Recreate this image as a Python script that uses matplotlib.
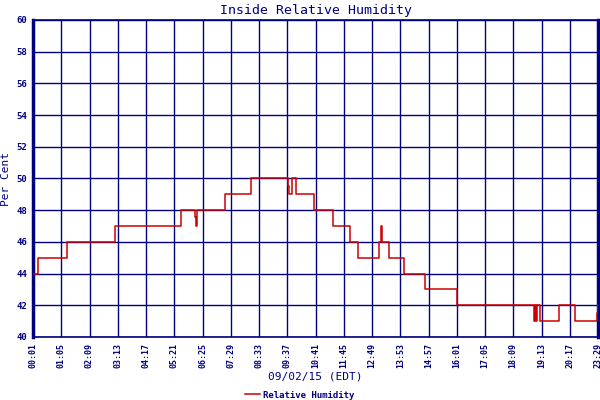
import matplotlib
matplotlib.use("Agg")
import matplotlib.pyplot as plt

# x tick labels (sample times, evenly spaced by index)
tick_labels = ["00:01", "01:05", "02:09", "03:13", "04:17", "05:21", "06:25",
               "07:29", "08:33", "09:37", "10:41", "11:45", "12:49", "13:53",
               "14:57", "16:01", "17:05", "18:09", "19:13", "20:17", "23:29"]

# step change positions (in tick-interval units) and humidity values
change_pos = [0.00, 0.16, 1.22, 2.92, 5.24, 5.73, 5.77, 5.80, 6.81, 7.72,
              9.03, 9.06, 9.17, 9.31, 9.93, 10.61, 11.21, 11.50, 12.24, 12.31,
              12.35, 12.59, 13.13, 13.87, 15.00, 17.75, 17.78, 17.82, 17.85,
              17.96, 18.61, 19.17, 19.96, 19.985, 20.00]
humidity = [44, 45, 46, 47, 48, 47.6, 47, 48, 49, 50,
            49.5, 49, 50, 49, 48, 47, 46, 45, 46, 47,
            46, 45, 44, 43, 42, 41, 42, 41, 42,
            41, 42, 41, 41.5, 42, 42]

y_ticks = list(range(40, 61, 2))

navy = "#000080"
red = "#cc0000"
mono = "DejaVu Sans Mono"

fig = plt.figure(figsize=(6, 4), dpi=100)
ax = fig.add_axes([33 / 600, 1 - 337 / 400, 565 / 600, 317 / 400])

ax.plot(change_pos, humidity, drawstyle="steps-post", color=red, lw=1.1,
        label="Relative Humidity", zorder=3)

ax.set_xlim(0, len(tick_labels) - 1)
ax.set_ylim(40, 60)
ax.set_xticks(range(len(tick_labels)))
ax.set_xticklabels(tick_labels, rotation=90, fontsize=6, fontweight="bold",
                   color=navy, family=mono)
ax.set_yticks(y_ticks)
ax.set_yticklabels([str(v) for v in y_ticks], fontsize=6.5, fontweight="bold",
                   color=navy, family=mono)
ax.tick_params(length=0, pad=4)
ax.grid(True, color=navy, lw=1.0)
ax.set_axisbelow(True)
for s in ["top", "bottom"]:
    ax.spines[s].set_color(navy)
    ax.spines[s].set_linewidth(1.2)
for s in ["left", "right"]:
    ax.spines[s].set_color(navy)
    ax.spines[s].set_linewidth(2.5)

ax.set_title("Inside Relative Humidity", color=navy, family=mono, fontsize=9.5,
             pad=4)
ax.set_ylabel("Per Cent", color=navy, family=mono, fontsize=8, labelpad=4)
ax.set_xlabel("09/02/15 (EDT)", color=navy, family=mono, fontsize=8,
              labelpad=3)

leg = fig.legend(loc="center", bbox_to_anchor=(0.5, 1 - 395 / 400),
                 frameon=False, handlelength=1.6,
                 handletextpad=0.4, prop={"family": mono, "weight": "bold",
                                          "size": 6.5})
for t in leg.get_texts():
    t.set_color(navy)

fig.savefig("out.png", dpi=100)
